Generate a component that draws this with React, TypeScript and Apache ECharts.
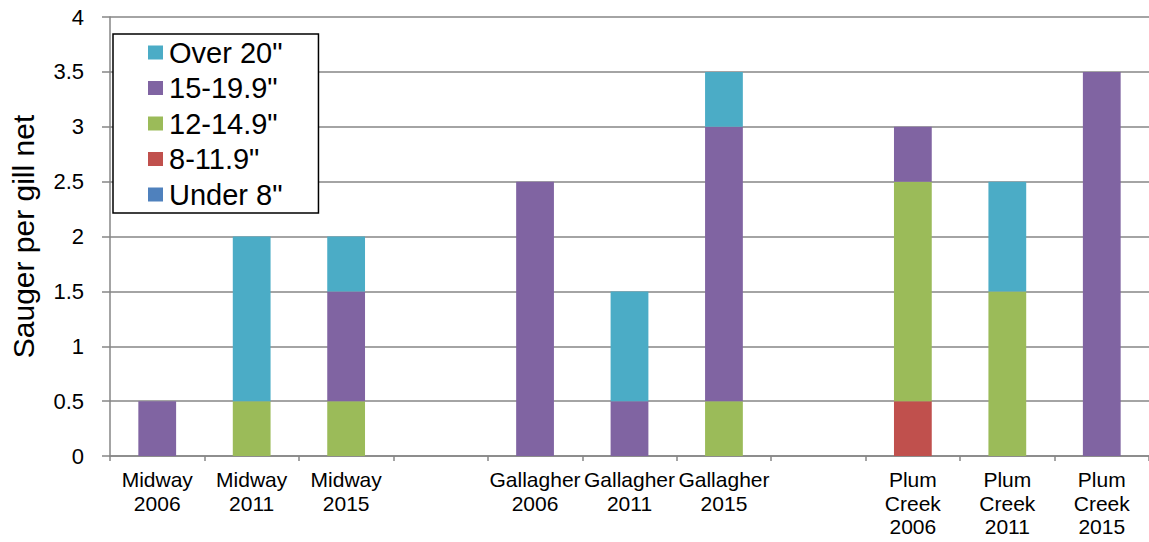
import React, { useEffect, useRef } from "react";
import * as echarts from "echarts";

const categories = [
  "Midway\n2006", "Midway\n2011", "Midway\n2015", "",
  "Gallagher\n2006", "Gallagher\n2011", "Gallagher\n2015", "",
  "Plum\nCreek\n2006", "Plum\nCreek\n2011", "Plum\nCreek\n2015",
];
const seriesNames = ['Under 8"', '8-11.9"', '12-14.9"', '15-19.9"', 'Over 20"'];
const under8 = [0, 0, 0, null, 0, 0, 0, null, 0, 0, 0];
const s8to11 = [0, 0, 0, null, 0, 0, 0, null, 0.5, 0, 0];
const s12to14 = [0, 0.5, 0.5, null, 0, 0, 0.5, null, 2.0, 1.5, 0];
const s15to19 = [0.5, 0, 1.0, null, 2.5, 0.5, 2.5, null, 0.5, 0, 3.5];
const over20 = [0, 1.5, 0.5, null, 0, 1.0, 0.5, null, 0, 1.0, 0];
const colors = ["#4F81BD", "#C0504D", "#9BBB59", "#8064A2", "#4BACC6"];
const yTicks = { min: 0, max: 4, interval: 0.5 };

const FONT = "'Liberation Sans', Arial, sans-serif";

export default function App() {
  const ref = useRef<HTMLDivElement>(null);
  useEffect(() => {
    if (!ref.current) return;
    const chart = echarts.init(ref.current, undefined, { renderer: "svg" });
    const values = [under8, s8to11, s12to14, s15to19, over20];
    chart.setOption({
      animation: false,
      textStyle: { fontFamily: FONT },
      grid: { left: 104, right: 0, top: 17, bottom: 86, containLabel: false },
      legend: {
        data: [...seriesNames].reverse(),
        orient: "vertical",
        left: 113,
        top: 34,
        itemWidth: 15,
        itemHeight: 14,
        itemGap: 6.5,
        itemStyle: { borderWidth: 0 },
        icon: "rect",
        padding: [4, 36, 4, 35],
        borderColor: "#000",
        borderWidth: 1.5,
        backgroundColor: "#fff",
        textStyle: { fontSize: 29, color: "#000", fontFamily: FONT, padding: [0, 0, 0, 1] },
      },
      xAxis: {
        type: "category",
        data: categories,
        axisLine: { lineStyle: { color: "#868686", width: 1.5 } },
        axisTick: { show: true, interval: 0, length: 5, lineStyle: { color: "#868686", width: 1.5 } },
        axisLabel: {
          interval: 0,
          fontSize: 21,
          lineHeight: 23.5,
          color: "#000",
          margin: 12,
          fontFamily: FONT,
        },
      },
      yAxis: {
        type: "value",
        min: yTicks.min,
        max: yTicks.max,
        interval: yTicks.interval,
        name: "Sauger per gill net",
        nameLocation: "middle",
        nameGap: 72,
        nameTextStyle: { fontSize: 30, color: "#000", fontFamily: FONT },
        axisLine: { show: true, lineStyle: { color: "#868686", width: 1.5 } },
        axisTick: { show: true, length: 8, lineStyle: { color: "#868686", width: 1.5 } },
        splitLine: { show: true, lineStyle: { color: "#868686", width: 1.5 } },
        axisLabel: { fontSize: 22, color: "#000", margin: 26, fontFamily: FONT },
      },
      series: seriesNames.map((name, i) => ({
        name,
        type: "bar",
        stack: "total",
        barWidth: "40%",
        data: values[i],
        itemStyle: { color: colors[i] },
      })),
    });
    return () => chart.dispose();
  }, []);
  return (
    <div
      ref={ref}
      style={{ position: "absolute", left: 0, top: 0, width: 1149, height: 542 }}
    />
  );
}
